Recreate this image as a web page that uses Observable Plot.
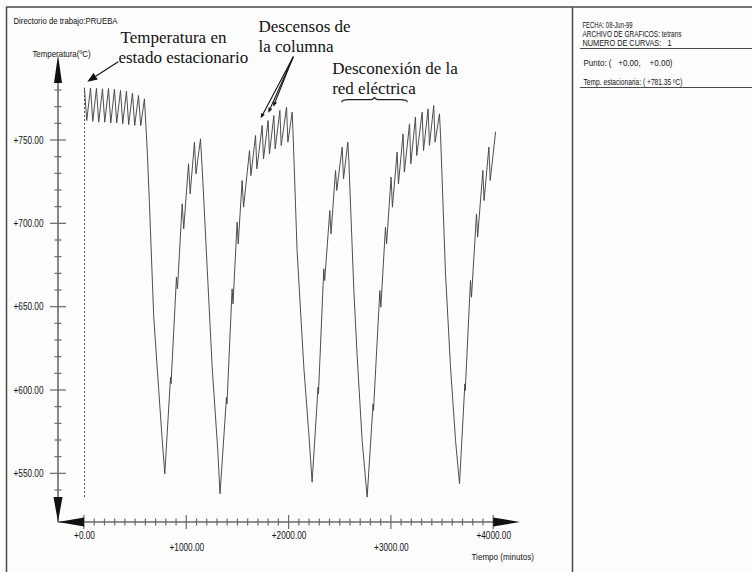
<!DOCTYPE html>
<html><head><meta charset="utf-8">
<script src="https://cdn.jsdelivr.net/npm/d3@7"></script>
<script src="https://cdn.jsdelivr.net/npm/@observablehq/plot@0.6"></script>
<style>
body{margin:0;background:#fdfdfd;}
#wrap{position:relative;width:752px;height:572px;overflow:hidden;background:#fdfdfd;}
#wrap svg{position:absolute;top:0;}
</style></head><body><div id="wrap"></div>
<script>
// ---- data: time (minutes) and temperature (ºC) ----
const times = [
  0, 22, 59, 81, 117, 139, 176, 198, 235, 257, 293, 315, 352, 374, 410, 432, 469, 491, 528, 550, 586,
  603, 615, 635, 677, 726, 758, 785,
  841, 846, 899, 909, 955, 970, 1017, 1033, 1075, 1090, 1134,
  1150, 1199, 1248, 1303, 1325,
  1388, 1393, 1443, 1452, 1492, 1503, 1541, 1555, 1613, 1627, 1672, 1685, 1737, 1750, 1795, 1808, 1851, 1864, 1910, 1923, 1975, 1988, 2030,
  2039, 2078, 2144, 2193, 2225,
  2283, 2287, 2339, 2348, 2398, 2410, 2454, 2466, 2519, 2532, 2574,
  2584, 2633, 2666, 2714, 2763,
  2821, 2825, 2887, 2897, 2942, 2953, 2997, 3010, 3056, 3069, 3114, 3127, 3177, 3190, 3235, 3248, 3301, 3314, 3359, 3372, 3414, 3427, 3470,
  3480, 3529, 3578, 3627, 3666,
  3718, 3722, 3773, 3783, 3832, 3843, 3894, 3906, 3953, 3966, 4018
];
const temps = [
  781.35, 762, 781.5, 761.5, 781.3, 761, 781, 761, 781.2, 760.5, 780.8, 760.5, 780, 760, 779.5, 759.5, 778.5, 759, 777, 759, 775,
  756, 742, 712, 644, 600, 572, 550,
  608, 604, 668, 661, 712, 697, 736, 718, 749, 730, 751,
  734, 674, 614, 564, 538,
  596, 592, 661, 652, 701, 688, 726, 710, 744, 729, 753, 733, 759, 739, 762, 742, 765, 745, 768, 747, 770, 749, 767,
  754, 684, 614, 574, 545,
  602, 598, 673, 666, 708, 694, 732, 720, 746, 727, 749,
  738, 660, 620, 570, 536,
  592, 588, 660, 650, 698, 688, 728, 710, 743, 724, 754, 731, 760, 736, 764, 741, 767, 744, 769, 747, 771, 749, 766,
  754, 670, 614, 570, 544,
  604, 600, 666, 656, 706, 692, 732, 714, 746, 726, 755
];
// axes
const xAxisExtent = [-254, 4262];
const yAxisExtent = [520.8, 801];
const xMajor = [0, 1000, 2000, 3000, 4000];
const xMinor = d3.range(0, 4001, 100);
const yMajor = [550, 600, 650, 700, 750];
const yMinor = d3.range(540, 781, 10);
const xLabel = "Tiempo (minutos)";
const yLabel = "Temperatura(ºC)";
const steadyTemp = 781.35;
const dashedFrom = 535.8;
// annotations
const annoTexts = [
  {t: 352, v: 808.5, text: "Temperatura en"},
  {t: 332, v: 796.5, text: "estado estacionario"},
  {t: 1701, v: 815.4, text: "Descensos de"},
  {t: 1701, v: 803.4, text: "la columna"},
  {t: 2421, v: 789.9, text: "Desconexión de la"},
  {t: 2421, v: 778.2, text: "red eléctrica"}
];
const annoArrows = [
  {t1: 335, v1: 797, t2: 32, v2: 785, head: 10, hw: 4},
  {t1: 2046, v1: 800, t2: 1727, v2: 763, head: 5, hw: 2},
  {t1: 2046, v1: 800, t2: 1802, v2: 766.4, head: 5, hw: 2},
  {t1: 2046, v1: 800, t2: 1850, v2: 770, head: 5, hw: 2}
];
const braceSpan = [2519, 3160];
const braceTemp = 774.2;
// header / side panel
const headerText = "Directorio de trabajo:PRUEBA";
const panelLines = [
  {text: "FECHA: 08-Jun-99", y: 27.5, w: 50},
  {text: "ARCHIVO DE GRAFICOS: tetrans", y: 37, w: 99},
  {text: "NUMERO DE CURVAS:   1", y: 46, w: 89},
  {text: "Punto: (   +0.00,    +0.00)", y: 66, w: 89, x: 583.5},
  {text: "Temp. estacionaria: ( +781.35 ºC)", y: 84.5, w: 99, x: 583.5}
];

const series = times.map((t, i) => ({t, v: temps[i]}));
const fmt = d => "+" + d.toFixed(2);
const sans = "'Liberation Sans Narrow','Arial Narrow','Liberation Sans',Arial,sans-serif";
const serif = "'Liberation Serif','Times New Roman',serif";

function axesMark(index, scales) {
  const x = scales.x, y = scales.y;
  const g = d3.create("svg:g");
  const X0 = x(xAxisExtent[0]), X1 = x(xAxisExtent[1]);
  const Yb = y(yAxisExtent[0]), Yt = y(yAxisExtent[1]);
  const axisColor = "#6a6a6a";
  g.append("line").attr("x1", X0).attr("x2", X0).attr("y1", Yb).attr("y2", Yt + 10)
    .attr("stroke", axisColor).attr("stroke-width", 1.6);
  g.append("line").attr("x1", X0).attr("x2", X1 - 8).attr("y1", Yb).attr("y2", Yb)
    .attr("stroke", axisColor).attr("stroke-width", 1.6);
  for (const v of yMinor) {
    const h = yMajor.includes(v) ? 8 : 3.5;
    g.append("line").attr("x1", X0 - h).attr("x2", X0 + h).attr("y1", y(v)).attr("y2", y(v))
      .attr("stroke", axisColor).attr("stroke-width", 1.2);
  }
  for (const t of xMinor) {
    const h = xMajor.includes(t) ? 7 : 3.5;
    g.append("line").attr("x1", x(t)).attr("x2", x(t)).attr("y1", Yb - h).attr("y2", Yb + h)
      .attr("stroke", axisColor).attr("stroke-width", 1.2);
  }
  const fill = "#111";
  g.append("path").attr("d", `M${X0},${Yt} L${X0 + 4},${Yt + 28} L${X0 - 4},${Yt + 28} Z`).attr("fill", fill);
  const yd = y(dashedFrom);
  g.append("path").attr("d", `M${X0},${Yb} L${X0 + 4.5},${yd} L${X0 - 4.5},${yd} Z`).attr("fill", fill);
  const x0 = x(0);
  g.append("path").attr("d", `M${X0},${Yb} L${x0},${Yb - 4.5} L${x0},${Yb + 4.5} Z`).attr("fill", fill);
  const x4 = x(xMajor[xMajor.length - 1]);
  g.append("path").attr("d", `M${X1},${Yb} L${x4},${Yb - 4.5} L${x4},${Yb + 4.5} Z`).attr("fill", fill);
  for (const a of annoArrows) {
    const ax1 = x(a.t1), ay1 = y(a.v1), ax2 = x(a.t2), ay2 = y(a.v2);
    const dx = ax2 - ax1, dy = ay2 - ay1, L = Math.hypot(dx, dy);
    const ux = dx / L, uy = dy / L;
    const bx = ax2 - ux * a.head, by = ay2 - uy * a.head;
    g.append("line").attr("x1", ax1).attr("y1", ay1).attr("x2", bx).attr("y2", by)
      .attr("stroke", "#111").attr("stroke-width", 1.1);
    g.append("path").attr("d", `M${ax2},${ay2} L${bx - uy * a.hw},${by + ux * a.hw} L${bx + uy * a.hw},${by - ux * a.hw} Z`)
      .attr("fill", "#111");
  }
  const bl = x(braceSpan[0]), br = x(braceSpan[1]), bm = (bl + br) / 2, by = y(braceTemp);
  g.append("path")
    .attr("d", `M${bl},${by + 2.5} Q${bl},${by} ${bl + 7},${by} L${bm - 6},${by} Q${bm},${by} ${bm},${by - 3} Q${bm},${by} ${bm + 6},${by} L${br - 7},${by} Q${br},${by} ${br},${by + 2.5}`)
    .attr("fill", "none").attr("stroke", "#222").attr("stroke-width", 1.2);
  return g.node();
}

const chart = Plot.plot({
  width: 572, height: 572,
  marginLeft: 58, marginRight: 52, marginTop: 55, marginBottom: 50,
  x: {domain: xAxisExtent, axis: null},
  y: {domain: yAxisExtent, axis: null},
  style: {background: "transparent", fontFamily: sans, fontSize: "10px", color: "#111", overflow: "visible"},
  marks: [
    Plot.ruleX([0], {y1: dashedFrom, y2: steadyTemp, stroke: "#555", strokeWidth: 1, strokeDasharray: "2,2"}),
    axesMark,
    Plot.line(series, {x: "t", y: "v", stroke: "#444", strokeWidth: 0.95}),
    Plot.text(yMajor, {x: () => xAxisExtent[0], y: d => d, text: fmt, dx: -15, textAnchor: "end", fontSize: 10, fill: "#111"}),
    Plot.text(xMajor, {filter: (d, i) => i % 2 === 0, x: d => d, y: () => yAxisExtent[0], text: fmt, dy: 13, fontSize: 10, fill: "#111"}),
    Plot.text(xMajor, {filter: (d, i) => i % 2 === 1, x: d => d, y: () => yAxisExtent[0], text: fmt, dy: 25, fontSize: 10, fill: "#111"}),
    Plot.text([xLabel], {x: () => 3783, y: () => yAxisExtent[0], text: d => d, dy: 34, textAnchor: "start", fontSize: 9.8, fill: "#111"}),
    Plot.text([yLabel], {x: () => xAxisExtent[0], y: () => yAxisExtent[1], text: d => d, dx: 3, dy: -2, fontSize: 9.6, fill: "#111"}),
    Plot.text(annoTexts, {x: "t", y: "v", text: "text", textAnchor: "start", lineAnchor: "bottom", fontFamily: serif, fontSize: 17, fill: "#111"})
  ]
});
chart.style.left = "0px";
const wrap = document.getElementById("wrap");
wrap.appendChild(chart);

// emulate the narrow sans face of the original: condense sans labels
const allTexts = Array.from(chart.querySelectorAll("text"));
const ref = allTexts.find(el => el.textContent === "+750.00");
const K = ref ? 30 / ref.getComputedTextLength() : 0.82;
for (const el of allTexts) {
  const ff = getComputedStyle(el).fontFamily || "";
  if (/Serif/.test(ff) && !/Sans/.test(ff)) continue;
  const len = el.getComputedTextLength();
  if (len > 0) { el.setAttribute("textLength", len * K); el.setAttribute("lengthAdjust", "spacingAndGlyphs"); }
}

// frame, header and side panel
const frame = d3.select(wrap).append("svg").attr("width", 752).attr("height", 572).style("left", "0px");
const fc = "#4a4a4a";
frame.append("line").attr("x1", 6).attr("x2", 752).attr("y1", 7).attr("y2", 7).attr("stroke", fc).attr("stroke-width", 1.5);
frame.append("line").attr("x1", 6.5).attr("x2", 6.5).attr("y1", 7).attr("y2", 572).attr("stroke", fc).attr("stroke-width", 1.5);
frame.append("line").attr("x1", 572.5).attr("x2", 572.5).attr("y1", 7).attr("y2", 572).attr("stroke", fc).attr("stroke-width", 1.5);
frame.append("line").attr("x1", 580).attr("x2", 752).attr("y1", 48.5).attr("y2", 48.5).attr("stroke", fc).attr("stroke-width", 1);
frame.append("line").attr("x1", 580).attr("x2", 752).attr("y1", 87.5).attr("y2", 87.5).attr("stroke", fc).attr("stroke-width", 1);
frame.append("text").attr("x", 13.5).attr("y", 23.5).attr("textLength", 104).attr("lengthAdjust", "spacingAndGlyphs")
  .attr("font-family", sans).attr("font-size", 9.4).attr("fill", "#111").text(headerText);
for (const p of panelLines) {
  frame.append("text").attr("x", p.x || 582.5).attr("y", p.y).attr("textLength", p.w).attr("lengthAdjust", "spacingAndGlyphs")
    .attr("font-family", sans).attr("font-size", 8.6).attr("fill", "#111").style("white-space", "pre").text(p.text);
}
</script></body></html>
